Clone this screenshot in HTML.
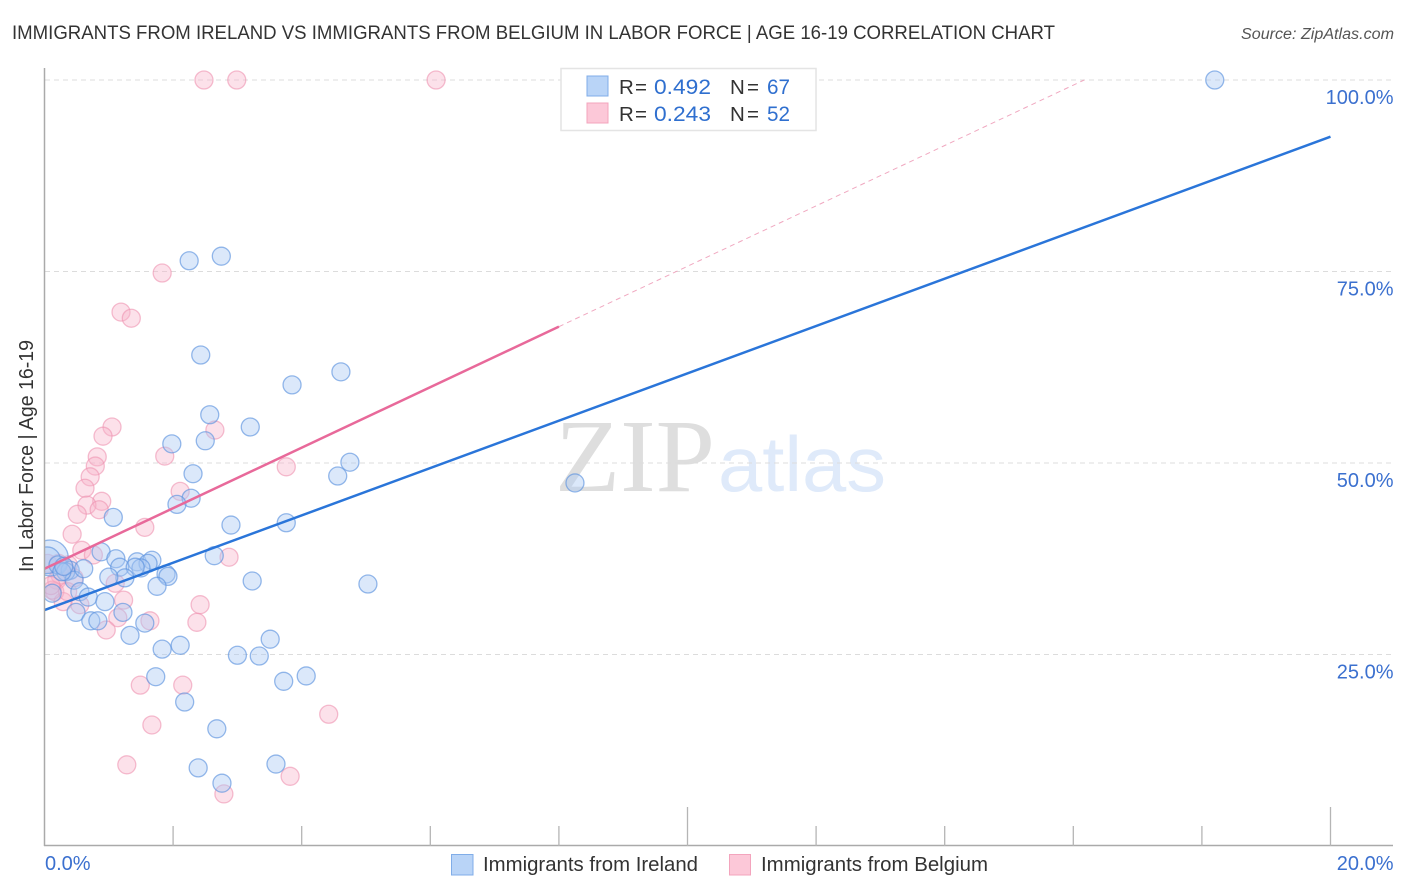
<!DOCTYPE html>
<html lang="en">
<head>
<meta charset="utf-8">
<title>Immigrants from Ireland vs Immigrants from Belgium in Labor Force | Age 16-19 Correlation Chart</title>
<style>
html,body{margin:0;padding:0;background:#fff;}
svg{display:block;font-family:"Liberation Sans",sans-serif;}
</style>
</head>
<body>
<svg id="chart" width="1406" height="892" viewBox="0 0 1406 892" xmlns="http://www.w3.org/2000/svg">
  <defs><clipPath id="plot-clip"><rect x="45" y="60" width="1350" height="786"/></clipPath></defs>
  <text x="12" y="39" font-size="19.5" fill="#333" textLength="1043" lengthAdjust="spacingAndGlyphs">IMMIGRANTS FROM IRELAND VS IMMIGRANTS FROM BELGIUM IN LABOR FORCE | AGE 16-19 CORRELATION CHART</text>
  <text x="1394" y="39" font-size="15.5" font-style="italic" fill="#555" text-anchor="end" textLength="153" lengthAdjust="spacingAndGlyphs">Source: ZipAtlas.com</text>
  <text x="555" y="491" font-family="'Liberation Serif',serif" font-size="104" fill="#dedede" textLength="160" lengthAdjust="spacingAndGlyphs">ZIP</text>
  <text x="718" y="491" font-size="78" fill="#dfeafa" textLength="168" lengthAdjust="spacingAndGlyphs">atlas</text>
  <g id="grid"></g>
  <g id="points" clip-path="url(#plot-clip)"></g>
  <g id="trends"></g>
  <g id="axes"></g>
  <text x="0" y="0" transform="translate(33,572) rotate(-90)" font-size="20" fill="#333" textLength="232" lengthAdjust="spacingAndGlyphs">In Labor Force | Age 16-19</text>

  <g>
    <rect x="561" y="68.5" width="255" height="62" fill="#fff" stroke="#e4e4e4" stroke-width="1.5"/>
    <rect x="587" y="76" width="21" height="20" fill="#b9d4f7" stroke="#80ade8" stroke-width="1"/>
    <rect x="587" y="103" width="21" height="20" fill="#fcc8d8" stroke="#f3a4bd" stroke-width="1"/>
    <text x="619" y="94" font-size="20.5" fill="#333" textLength="28" lengthAdjust="spacing">R =</text>
    <text x="654" y="94" font-size="21.5" fill="#2f6fcf" textLength="57" lengthAdjust="spacingAndGlyphs">0.492</text>
    <text x="730" y="94" font-size="20.5" fill="#333" textLength="29" lengthAdjust="spacing">N =</text>
    <text x="767" y="94" font-size="21.5" fill="#2f6fcf" textLength="23" lengthAdjust="spacingAndGlyphs">67</text>
    <text x="619" y="121" font-size="20.5" fill="#333" textLength="28" lengthAdjust="spacing">R =</text>
    <text x="654" y="121" font-size="21.5" fill="#2f6fcf" textLength="57" lengthAdjust="spacingAndGlyphs">0.243</text>
    <text x="730" y="121" font-size="20.5" fill="#333" textLength="29" lengthAdjust="spacing">N =</text>
    <text x="767" y="121" font-size="21.5" fill="#2f6fcf" textLength="23" lengthAdjust="spacingAndGlyphs">52</text>
  </g>

  <g>
    <rect x="451.5" y="854.5" width="21.5" height="20.5" fill="#b9d4f7" stroke="#80ade8" stroke-width="1"/>
    <text x="483" y="871" font-size="20" fill="#333" textLength="215" lengthAdjust="spacingAndGlyphs">Immigrants from Ireland</text>
    <rect x="729.5" y="854.5" width="21" height="20.5" fill="#fcc8d8" stroke="#f3a4bd" stroke-width="1"/>
    <text x="761" y="871" font-size="20" fill="#333" textLength="227" lengthAdjust="spacingAndGlyphs">Immigrants from Belgium</text>
  </g>
</svg>
<script>
var yTicks = [25, 50, 75, 100];
var yTickLabels = ["25.0%", "50.0%", "75.0%", "100.0%"];
var xTicks = [0, 2, 4, 6, 8, 10, 12, 14, 16, 18, 20];
var xEndLabels = ["0.0%", "20.0%"];

var irelandX = [0.09,0.04,0.21,0.40,0.33,0.46,0.27,0.12,18.20,2.25,2.75,2.43,4.61,3.85,2.57,3.20,2.50,1.98,2.31,4.75,4.56,8.25,2.28,2.06,1.07,2.90,3.76,0.88,1.11,2.64,1.44,1.67,1.61,1.17,1.50,1.41,1.25,1.00,0.61,1.89,1.92,1.75,3.23,5.03,0.55,0.68,0.94,0.49,1.22,0.72,0.83,1.56,1.33,3.51,1.83,2.11,3.00,3.34,1.73,4.07,3.72,2.18,2.68,3.60,2.39,2.76,0.30];
var irelandY = [37.6,37.3,36.7,36.0,35.8,34.7,35.8,33.0,100,76.4,77.0,64.1,61.9,60.2,56.3,54.7,52.9,52.5,48.6,50.1,48.3,47.4,45.4,44.6,42.9,41.9,42.2,38.4,37.5,37.9,37.1,37.3,36.9,36.4,36.3,36.4,35.0,35.1,36.2,35.5,35.2,33.9,34.6,34.2,33.2,32.5,31.9,30.5,30.5,29.4,29.4,29.1,27.5,27.0,25.7,26.2,24.9,24.8,22.1,22.2,21.5,18.8,15.3,10.7,10.2,8.2,36.5];
var irelandWeight = [4.0,2.2];

var belgiumX = [2.48,2.99,6.09,1.83,1.19,1.35,1.05,0.91,2.65,1.87,0.82,0.79,3.76,0.71,0.63,2.11,0.89,0.66,0.85,0.51,1.56,0.43,0.58,0.76,2.87,0.37,0.05,0.24,0.19,0.46,0.16,0.29,0.55,1.23,1.10,2.42,2.37,1.14,1.64,0.96,1.49,2.15,1.67,1.28,4.42,3.82,2.79,0.12,0.36,0.10,0.30,0.22];
var belgiumY = [100,100,100,74.8,69.7,68.9,54.7,53.5,54.3,50.9,50.8,49.6,49.5,48.2,46.7,46.3,45.0,44.5,43.9,43.3,41.6,40.7,38.6,38.0,37.7,36.7,36.9,35.4,34.7,35.0,33.2,31.9,31.5,32.1,34.3,31.5,29.2,29.8,29.4,28.2,21.0,21.0,15.8,10.6,17.2,9.1,6.8,33.4,33.2,34.0,36.5,36.9];

var irelandTrendX = [0, 20];
var irelandTrendY = [30.8, 92.6];
var belgiumTrendX = [0, 8];
var belgiumTrendY = [36.2, 67.8];
var belgiumDashX = [8, 16.17];
var belgiumDashY = [67.8, 100];

var NS = 'http://www.w3.org/2000/svg';
function sx(v) { return 44.5 + v * 64.3; }
function sy(v) { return 846 - v * 7.66; }
function make(parent, tag, attrs) {
  var el = document.createElementNS(NS, tag);
  for (var k in attrs) el.setAttribute(k, attrs[k]);
  parent.appendChild(el);
  return el;
}

var grid = document.getElementById('grid');
yTicks.forEach(function (t, i) {
  var g = make(grid, 'line', {x1: 45, x2: 1393, y1: sy(t), y2: sy(t), stroke: '#dcdcdc', 'stroke-width': 1, 'stroke-dasharray': '5 4'});
  
  
  var lbl = make(grid, 'text', {x: 1393.5, y: sy(t) + 24, 'font-size': 20, fill: '#3b70cf', 'text-anchor': 'end'});
  lbl.textContent = yTickLabels[i];
  
  
});

var axes = document.getElementById('axes');
var yAxis = make(axes, 'line', {x1: 44.5, x2: 44.5, y1: 68, y2: 846, stroke: '#aaa', 'stroke-width': 1.5});


var xAxis = make(axes, 'line', {x1: 44, x2: 1393, y1: 845.5, y2: 845.5, stroke: '#aaa', 'stroke-width': 1.5});


xTicks.forEach(function (t, i) {
  if (i === 0) return;
  var top = (i % 5 === 0) ? 807 : 826;
  var tick = make(axes, 'line', {x1: sx(t), x2: sx(t), y1: top, y2: 846, stroke: '#b5b5b5', 'stroke-width': 1.3});
  
  
});
var x0 = make(axes, 'text', {x: 45, y: 870, 'font-size': 20, fill: '#3b70cf'});
x0.textContent = xEndLabels[0];


var x1 = make(axes, 'text', {x: 1393.5, y: 870, 'font-size': 20, fill: '#3b70cf', 'text-anchor': 'end'});
x1.textContent = xEndLabels[1];



var pts = document.getElementById('points');
belgiumX.forEach(function (v, i) {
  var c = make(pts, 'circle', {cx: sx(v), cy: sy(belgiumY[i]), r: 9, fill: '#f8b4ca', 'fill-opacity': 0.4, stroke: '#ee93b0', 'stroke-opacity': 0.6, 'stroke-width': 1.3});
  
  
});
irelandX.forEach(function (v, i) {
  var w = irelandWeight[i] || 1;
  var c = make(pts, 'circle', {cx: sx(v), cy: sy(irelandY[i]), r: 9 * Math.sqrt(w), fill: '#a9c9f3', 'fill-opacity': 0.42, stroke: '#5e94de', 'stroke-opacity': 0.65, 'stroke-width': 1.3});
  
  
});

var trends = document.getElementById('trends');
var dash = make(trends, 'line', {x1: sx(belgiumDashX[0]), y1: sy(belgiumDashY[0]), x2: sx(belgiumDashX[1]), y2: sy(belgiumDashY[1]), stroke: '#f0a8c0', 'stroke-width': 1, 'stroke-dasharray': '5 4'});


var bl = make(trends, 'line', {x1: sx(belgiumTrendX[0]), y1: sy(belgiumTrendY[0]), x2: sx(belgiumTrendX[1]), y2: sy(belgiumTrendY[1]), stroke: '#e8699a', 'stroke-width': 2.5});


var il = make(trends, 'line', {x1: sx(irelandTrendX[0]), y1: sy(irelandTrendY[0]), x2: sx(irelandTrendX[1]), y2: sy(irelandTrendY[1]), stroke: '#2a75d9', 'stroke-width': 2.5});


</script>
</body>
</html>
